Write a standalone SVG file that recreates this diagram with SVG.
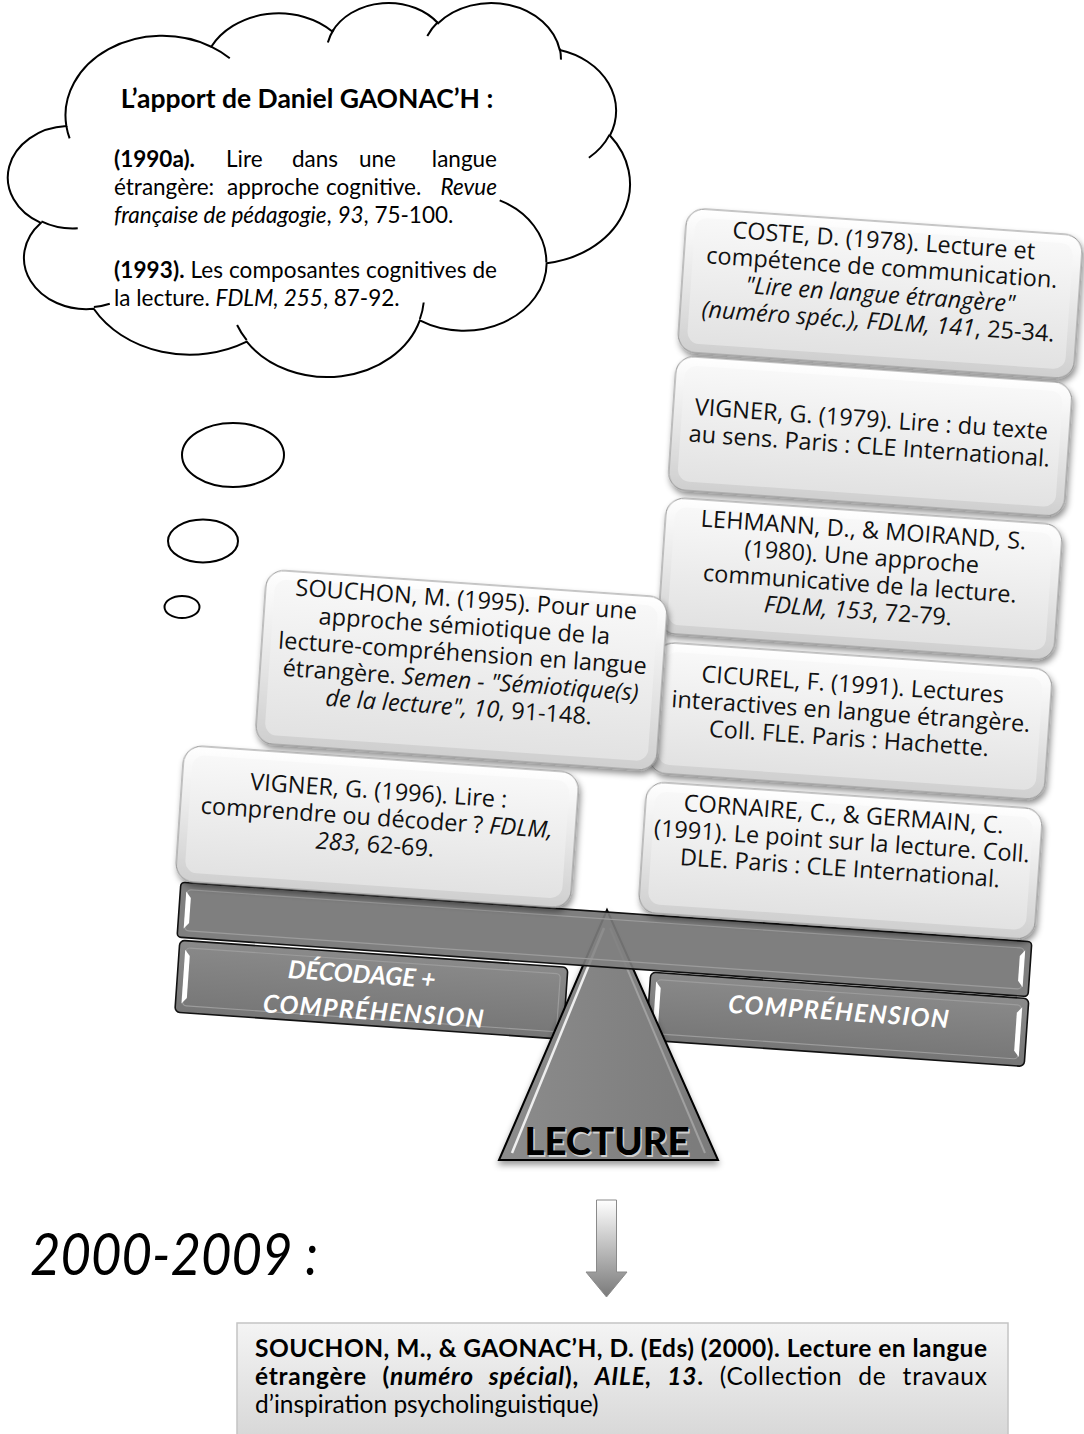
<svg xmlns="http://www.w3.org/2000/svg" width="1084" height="1434" viewBox="0 0 1084 1434">
<style>
.cl{font-family:Lato,"Liberation Sans",sans-serif;font-size:22.5px;fill:#000}
.ttl{font-family:Lato,"Liberation Sans",sans-serif;font-size:26.5px;font-weight:bold;fill:#000;text-anchor:middle}
.bb{font-family:Lato,"Liberation Sans",sans-serif;font-size:24.5px;fill:#000}
.bx{font-family:"Open Sans","Liberation Sans",sans-serif;font-size:23.5px;fill:#111;text-anchor:middle}
.it{font-style:italic}
.b{font-weight:bold}
.lab{font-family:Lato,"Liberation Sans",sans-serif;font-weight:bold;font-style:italic;font-size:25px;fill:#fff;text-anchor:middle}
.bOut{fill:url(#gBox);stroke:#8f8f8f;stroke-width:1;filter:url(#sh)}
.bIn{fill:url(#gFace);stroke:none}
.bar{fill:url(#gBar);stroke:#111;stroke-width:1.6}
.outline{fill:none;stroke:#000;stroke-width:2}
</style>
<defs>
<linearGradient id="gBox" x1="0" y1="0" x2="0" y2="1"><stop offset="0" stop-color="#ffffff"/><stop offset="1" stop-color="#cfcfcf"/></linearGradient>
<linearGradient id="gFace" x1="0" y1="0" x2="0" y2="1"><stop offset="0" stop-color="#f8f8f8"/><stop offset="1" stop-color="#e2e2e2"/></linearGradient>
<linearGradient id="gBar" x1="0" y1="0" x2="0" y2="1"><stop offset="0" stop-color="#8a8a8a"/><stop offset="1" stop-color="#767676"/></linearGradient>
<linearGradient id="gTri" x1="0" y1="0" x2="1" y2="0"><stop offset="0" stop-color="#8c8c8c"/><stop offset="1" stop-color="#7a7a7a"/></linearGradient>
<linearGradient id="gArrow" gradientUnits="userSpaceOnUse" x1="0" y1="1200" x2="0" y2="1297"><stop offset="0" stop-color="#ffffff"/><stop offset="1" stop-color="#7a7a7a"/></linearGradient>
<linearGradient id="gBottom" x1="0" y1="0" x2="0" y2="1"><stop offset="0" stop-color="#f4f4f4"/><stop offset="1" stop-color="#d8d8d8"/></linearGradient>
<filter id="sh" x="-10%" y="-10%" width="125%" height="135%"><feDropShadow dx="2" dy="4" stdDeviation="3" flood-color="#000" flood-opacity="0.45"/></filter>
<filter id="shT" x="-10%" y="-10%" width="125%" height="125%"><feDropShadow dx="0" dy="4" stdDeviation="3" flood-color="#000" flood-opacity="0.4"/></filter>
</defs>

<!-- Thought cloud -->
<g id="cloud">
<path d="M66.37,126.09 A96.80,79.55 0 0 1 211.23,46.73 A76.45,62.90 0 0 1 332.37,31.42 A62.57,51.46 0 0 1 438.14,23.20 A69.63,57.09 0 0 1 559.77,49.99 A76.45,62.95 0 0 1 609.94,135.55 A97.12,79.81 0 0 1 546.66,263.16 A82.93,68.10 0 0 1 419.82,320.38 A96.79,79.76 0 0 1 246.73,341.62 A110.67,91.26 0 0 1 93.71,308.78 A62.50,51.23 0 0 1 40.81,222.89 A62.29,51.46 0 0 1 66.37,126.09 Z" fill="#fff" stroke="#000" stroke-width="2"/>
<path class="outline" d="M77.73,228.29 A62.29,51.46 0 0 1 41.41,221.39 M109.77,303.79 A62.50,51.23 0 0 1 93.89,307.09 M246.67,340.06 A96.79,79.76 0 0 1 237.09,324.98 M423.70,302.50 A96.79,79.76 0 0 1 419.88,319.02 M499.70,200.39 A82.93,68.10 0 0 1 546.31,262.16 M609.63,134.61 A76.45,62.95 0 0 1 588.87,157.77 M559.83,48.67 A69.63,57.09 0 0 1 560.93,59.61 M427.29,35.91 A69.63,57.09 0 0 1 437.93,21.95 M327.85,42.56 A62.57,51.46 0 0 1 333.57,29.61 M211.15,46.64 A96.80,79.55 0 0 1 229.78,58.31 M69.62,138.37 A96.80,79.55 0 0 1 66.37,126.09"/>
<text class="ttl" x="307" y="108">L’apport de Daniel GAONAC’H :</text>
<text class="cl" y="167"><tspan x="114" class="b">(1990a).</tspan><tspan x="226">Lire</tspan><tspan x="292">dans</tspan><tspan x="359">une</tspan><tspan x="497" text-anchor="end">langue</tspan></text>
<text class="cl" y="195"><tspan x="114">étrangère:</tspan><tspan x="227">approche</tspan><tspan x="326">cognitive.</tspan><tspan x="497" text-anchor="end" class="it">Revue</tspan></text>
<text class="cl" x="114" y="223"><tspan class="it">française de pédagogie</tspan>, <tspan class="it">93</tspan>, 75-100.</text>
<text class="cl" x="114" y="278" textLength="383" lengthAdjust="spacing"><tspan class="b">(1993).</tspan> Les composantes cognitives de</text>
<text class="cl" x="114" y="306">la lecture. <tspan class="it">FDLM, 255</tspan>, 87-92.</text>
<ellipse cx="233" cy="455" rx="51" ry="32" fill="#fff" stroke="#000" stroke-width="2"/>
<ellipse cx="203" cy="541" rx="35" ry="21.5" fill="#fff" stroke="#000" stroke-width="2"/>
<ellipse cx="182" cy="607" rx="17.5" ry="11" fill="#fff" stroke="#000" stroke-width="2"/>
</g>

<!-- Lower bars (rotated) -->
<g id="bars" transform="rotate(4 607 910)">
<g id="bar-left">
<rect class="bar" x="183" y="970" width="389" height="72" rx="5"/>
<rect x="190" y="977" width="375" height="58" rx="4" fill="none" stroke="#9c9c9c" stroke-width="1.2"/>
<path d="M189,979 L194,985 V1027 L189,1033 Z" fill="#fff"/>
<text class="lab" x="367" y="1000">DÉCODAGE +</text>
<text class="lab" x="381" y="1036" textLength="221" lengthAdjust="spacing">COMPRÉHENSION</text>
</g>
<g id="bar-right">
<rect class="bar" x="655" y="969" width="379" height="68" rx="5"/>
<rect x="662" y="976" width="365" height="54" rx="4" fill="none" stroke="#9c9c9c" stroke-width="1.2"/>
<path d="M661,978 L666,984 V1022 L661,1028 Z" fill="#fff"/>
<path d="M1028,978 L1023,984 V1022 L1028,1028 Z" fill="#fff"/>
<text class="lab" x="845" y="1004" textLength="221" lengthAdjust="spacing">COMPRÉHENSION</text>
</g>
<rect id="beam-solid" x="180" y="912" width="853" height="55" rx="4" fill="#7f7f7f"/>
</g>

<!-- Fulcrum -->
<g id="fulcrum">
<polygon points="607,910 499,1160 718,1160" fill="url(#gTri)" stroke="#000" stroke-width="2" filter="url(#shT)"/>
<polyline points="512,1153 604,928" fill="none" stroke="#fff" stroke-width="2.5" opacity="0.85"/>
<polyline points="610,928 705,1153" fill="none" stroke="#a9a9a9" stroke-width="2" opacity="0.8"/>
</g>

<!-- Beam overlay (rotated) -->
<g id="beam" transform="rotate(4 607 910)">
<rect x="180" y="912" width="853" height="55" rx="4" fill="#7f7f7f" opacity="0.88"/>
<rect x="180" y="912" width="853" height="55" rx="4" fill="none" stroke="#111" stroke-width="1.6"/>
<rect x="187" y="919" width="839" height="41" rx="4" fill="none" stroke="#9c9c9c" stroke-width="1.2"/>
<path d="M186,921 L191,927 V952 L186,958 Z" fill="#fff"/>
<path d="M1027,921 L1022,927 V952 L1027,958 Z" fill="#fff"/>
</g>

<!-- Reference boxes (rotated) -->
<g id="boxes" transform="rotate(4 607 910)">
<g id="coste">
<rect class="bOut" x="638" y="204" width="397" height="144" rx="18"/>
<rect class="bIn" x="647" y="213" width="379" height="126" rx="12"/>
<text class="bx" x="836.5" y="231">COSTE, D. (1978). Lecture et</text>
<text class="bx" x="836.5" y="258">compétence de communication.</text>
<text class="bx it" x="836.5" y="285">"Lire en langue étrangère"</text>
<text class="bx" x="836.5" y="312"><tspan class="it">(numéro spéc.), FDLM, 141</tspan>, 25-34.</text>
</g>
<g id="vigner79">
<rect class="bOut" x="638" y="352" width="397" height="134" rx="18"/>
<rect class="bIn" x="647" y="361" width="379" height="116" rx="12"/>
<text class="bx" x="836.5" y="410">VIGNER, G. (1979). Lire : du texte</text>
<text class="bx" x="836.5" y="437">au sens. Paris : CLE International.</text>
</g>
<g id="lehmann">
<rect class="bOut" x="638" y="494" width="397" height="136" rx="18"/>
<rect class="bIn" x="647" y="503" width="379" height="118" rx="12"/>
<text class="bx" x="836.5" y="521">LEHMANN, D., &amp; MOIRAND, S.</text>
<text class="bx" x="836.5" y="548">(1980). Une approche</text>
<text class="bx" x="836.5" y="575">communicative de la lecture.</text>
<text class="bx" x="836.5" y="602"><tspan class="it">FDLM, 153</tspan>, 72-79.</text>
</g>
<g id="cicurel">
<rect class="bOut" x="638" y="639" width="397" height="131" rx="18"/>
<rect class="bIn" x="647" y="648" width="379" height="113" rx="12"/>
<text class="bx" x="836.5" y="676">CICUREL, F. (1991). Lectures</text>
<text class="bx" x="836.5" y="703">interactives en langue étrangère.</text>
<text class="bx" x="836.5" y="730">Coll. FLE. Paris : Hachette.</text>
</g>
<g id="cornaire">
<rect class="bOut" x="638" y="779" width="397" height="131" rx="18"/>
<rect class="bIn" x="647" y="788" width="379" height="113" rx="12"/>
<text class="bx" x="836.5" y="806">CORNAIRE, C., &amp; GERMAIN, C.</text>
<text class="bx" x="836.5" y="833">(1991). Le point sur la lecture. Coll.</text>
<text class="bx" x="836.5" y="860">DLE. Paris : CLE International.</text>
</g>
<g id="souchon">
<rect class="bOut" x="244" y="594" width="402" height="174" rx="18"/>
<rect class="bIn" x="253" y="603" width="384" height="156" rx="12"/>
<text class="bx" x="445" y="618">SOUCHON, M. (1995). Pour une</text>
<text class="bx" x="445" y="645">approche sémiotique de la</text>
<text class="bx" x="445" y="672">lecture-compréhension en langue</text>
<text class="bx" x="445" y="699">étrangère. <tspan class="it">Semen - "Sémiotique(s)</tspan></text>
<text class="bx" x="445" y="726"><tspan class="it">de la lecture", 10</tspan>, 91-148.</text>
</g>
<g id="vigner96">
<rect class="bOut" x="174" y="775" width="396" height="136" rx="18"/>
<rect class="bIn" x="183" y="784" width="378" height="118" rx="12"/>
<text class="bx" x="371" y="815">VIGNER, G. (1996). Lire :</text>
<text class="bx" x="371" y="842">comprendre ou décoder ? <tspan class="it">FDLM,</tspan></text>
<text class="bx" x="371" y="869"><tspan class="it">283</tspan>, 62-69.</text>
</g>
</g>

<text id="lecture-shadow" x="608.5" y="1157" text-anchor="middle" font-family="Lato,'Liberation Sans',sans-serif" font-weight="900" font-size="37" fill="#d0d0d0" textLength="165" lengthAdjust="spacingAndGlyphs">LECTURE</text>
<text id="lecture" x="607" y="1155" text-anchor="middle" font-family="Lato,'Liberation Sans',sans-serif" font-weight="900" font-size="37" fill="#000" textLength="165" lengthAdjust="spacingAndGlyphs">LECTURE</text>

<text id="period" x="30" y="1275" font-family="Lato,'Liberation Sans',sans-serif" font-style="italic" font-size="58" fill="#000" textLength="288" lengthAdjust="spacingAndGlyphs">2000-2009 :</text>

<g id="connectors">
<path d="M596.5,1200 H616.5 V1272 H627 L606.5,1297 L586,1272 H596.5 Z" fill="url(#gArrow)" stroke="#8a8a8a" stroke-width="1"/>
</g>

<g id="box2000">
<rect x="237" y="1323" width="771" height="112" fill="url(#gBottom)" stroke="#c4c4c4" stroke-width="1.5"/>
<text class="bb b" x="255" y="1357" textLength="732" lengthAdjust="spacing">SOUCHON, M., &amp; GAONAC’H, D. (Eds) (2000). Lecture en langue</text>
<text class="bb" x="255" y="1385" word-spacing="9" textLength="732" lengthAdjust="spacing"><tspan class="b">étrangère (</tspan><tspan class="b it">numéro spécial</tspan><tspan class="b">), </tspan><tspan class="b it">AILE, 13</tspan><tspan class="b">.</tspan> (Collection de travaux</text>
<text class="bb" x="255" y="1413">d’inspiration psycholinguistique)</text>
</g>
</svg>
